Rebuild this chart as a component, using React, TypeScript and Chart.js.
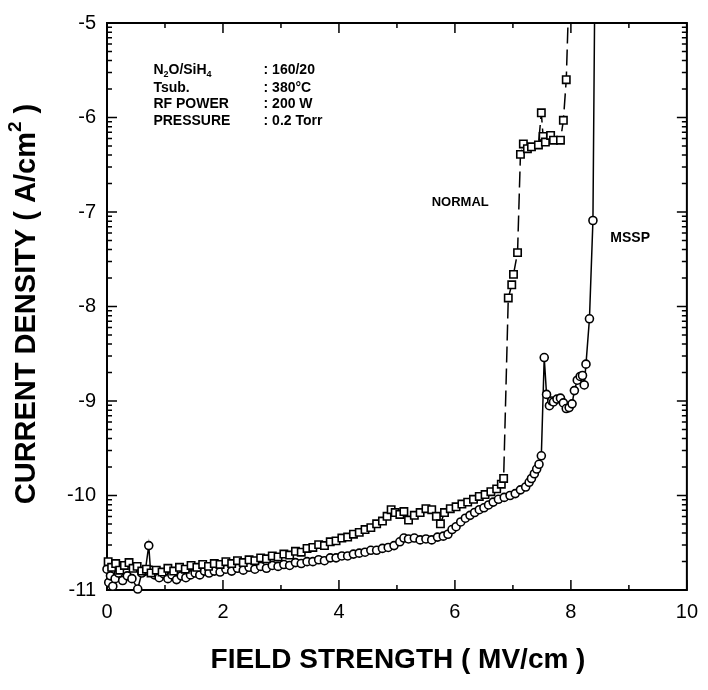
import React, { useEffect, useRef } from "react";
import { Chart, registerables } from "chart.js";

Chart.register(...registerables);

// ---- data ----
const normalX = [
  0.02, 0.08, 0.15, 0.22, 0.30, 0.38, 0.45, 0.52, 0.60, 0.68, 0.76, 0.85, 0.95,
  1.05, 1.15, 1.25, 1.35, 1.45, 1.55, 1.65, 1.75, 1.85, 1.95, 2.05, 2.15, 2.25,
  2.35, 2.45, 2.55, 2.65, 2.75, 2.85, 2.95, 3.05, 3.15, 3.25, 3.35, 3.45, 3.55,
  3.65, 3.75, 3.85, 3.95, 4.05, 4.15, 4.25, 4.35, 4.45, 4.55, 4.65, 4.75, 4.83,
  4.90, 4.97, 5.05, 5.12, 5.20, 5.30, 5.40, 5.50, 5.60, 5.68, 5.75, 5.82, 5.92,
  6.02, 6.12, 6.22, 6.32, 6.42, 6.52, 6.62, 6.72, 6.80, 6.84,
  6.92, 6.98, 7.01, 7.08, 7.13, 7.18, 7.25, 7.32, 7.44, 7.49, 7.52, 7.56, 7.65,
  7.70, 7.82, 7.87, 7.92, 7.96,
];
const normalY = [
  -10.70, -10.76, -10.72, -10.79, -10.74, -10.71, -10.77, -10.75, -10.80, -10.78, -10.82, -10.79, -10.81,
  -10.77, -10.80, -10.76, -10.78, -10.74, -10.76, -10.73, -10.75, -10.72, -10.73, -10.70, -10.72, -10.69,
  -10.71, -10.68, -10.69, -10.66, -10.67, -10.64, -10.65, -10.62, -10.63, -10.59, -10.60, -10.56, -10.55,
  -10.52, -10.53, -10.49, -10.48, -10.45, -10.44, -10.41, -10.39, -10.36, -10.34, -10.30, -10.27, -10.22,
  -10.15, -10.18, -10.20, -10.17, -10.26, -10.21, -10.18, -10.14, -10.15, -10.22, -10.30, -10.18, -10.14,
  -10.12, -10.09, -10.07, -10.04, -10.01, -9.99, -9.96, -9.93, -9.88, -9.82,
  -7.91, -7.77, -7.66, -7.43, -6.39, -6.28, -6.33, -6.31, -6.29, -5.95, -6.20, -6.26, -6.19,
  -6.24, -6.24, -6.03, -5.60, -4.80,
];

const msspX = [
  0.00, 0.03, 0.06, 0.10, 0.14, 0.20, 0.27, 0.35, 0.43, 0.53, 0.60, 0.66, 0.72,
  0.75, 0.82, 0.90, 0.98, 1.05, 1.12, 1.20, 1.28, 1.36, 1.44, 1.52, 1.60, 1.68,
  1.76, 1.85, 1.95, 2.05, 2.15, 2.25, 2.35, 2.45, 2.55, 2.65, 2.75, 2.85, 2.95,
  3.05, 3.15, 3.25, 3.35, 3.45, 3.55, 3.65, 3.75, 3.85, 3.95, 4.05, 4.15, 4.25,
  4.35, 4.45, 4.55, 4.65, 4.75, 4.85, 4.95, 5.05, 5.12, 5.20, 5.30, 5.40, 5.50,
  5.60, 5.70, 5.80, 5.88, 5.95, 6.02, 6.10, 6.18, 6.26, 6.34, 6.42, 6.50, 6.58,
  6.66, 6.75, 6.85, 6.95, 7.04, 7.13, 7.22, 7.28, 7.32, 7.37, 7.41, 7.45, 7.49,
  7.54, 7.58, 7.63, 7.67, 7.70, 7.76, 7.82, 7.87, 7.92, 7.97, 8.02, 8.06, 8.11,
  8.16, 8.20, 8.23, 8.26, 8.32, 8.38, 8.41,
];
const msspY = [
  -10.78, -10.92, -10.85, -10.96, -10.88, -10.82, -10.90, -10.85, -10.88, -10.99, -10.82, -10.80, -10.53,
  -10.79, -10.84, -10.87, -10.83, -10.88, -10.84, -10.89, -10.85, -10.87, -10.84, -10.82, -10.84, -10.80,
  -10.82, -10.80, -10.81, -10.78, -10.80, -10.77, -10.79, -10.76, -10.78, -10.75, -10.77, -10.74, -10.75,
  -10.73, -10.74, -10.71, -10.72, -10.70, -10.70, -10.68, -10.69, -10.66, -10.66, -10.64, -10.64, -10.62,
  -10.61, -10.60, -10.58, -10.58, -10.56, -10.55, -10.53, -10.49, -10.45, -10.46, -10.45, -10.47, -10.46,
  -10.47, -10.44, -10.43, -10.41, -10.36, -10.33, -10.28, -10.24, -10.21, -10.18, -10.15, -10.13, -10.10,
  -10.07, -10.04, -10.02, -10.00, -9.98, -9.94, -9.91, -9.86, -9.82, -9.77, -9.72, -9.67, -9.58,
  -8.54, -8.93, -9.05, -9.00, -9.01, -8.98, -8.97, -9.02, -9.08, -9.07, -9.03, -8.89, -8.78,
  -8.74, -8.73, -8.83, -8.61, -8.13, -7.09, -4.80,
];

const xMin = 0;
const xMax = 10;
const xMajorStep = 2;
const xMinorTicks = [1, 3, 5, 7, 9];
const yMin = -11;
const yMax = -5;
const yDecades = [-11, -10, -9, -8, -7, -6];
const logMinorFactors = [2, 3, 4, 5, 6, 7, 8, 9];

const seriesLabels = ["NORMAL", "MSSP"];
const xTitle = "FIELD STRENGTH ( MV/cm )";
const yTitleMain = "CURRENT DENSITY ( A/cm";
const yTitleSup = "2";
const yTitleEnd = " )";

const conditionNames = ["N2O/SiH4", "Tsub.", "RF POWER", "PRESSURE"];
const conditionValues = [": 160/20", ": 380°C", ": 200 W", ": 0.2 Torr"];

const FONT = '"Liberation Sans", Arial, Helvetica, sans-serif';

type Seg = { t: string; sub?: boolean; sup?: boolean };

function drawSegs(ctx: CanvasRenderingContext2D, segs: Seg[], x: number, y: number, size: number, weight: string, align: "left" | "center") {
  const widths = segs.map((s) => {
    ctx.font = `${weight} ${s.sub || s.sup ? Math.round(size * 0.65) : size}px ${FONT}`;
    return ctx.measureText(s.t).width;
  });
  const total = widths.reduce((a, b) => a + b, 0);
  let cx = align === "center" ? x - total / 2 : x;
  segs.forEach((s, i) => {
    const small = s.sub || s.sup;
    ctx.font = `${weight} ${small ? Math.round(size * 0.65) : size}px ${FONT}`;
    let dy = 0;
    if (s.sub) dy = size * 0.3;
    if (s.sup) dy = -size * 0.38;
    ctx.fillText(s.t, cx, y + dy);
    cx += widths[i];
  });
}

function nameSegs(name: string): Seg[] {
  if (name === "N2O/SiH4") {
    return [{ t: "N" }, { t: "2", sub: true }, { t: "O/SiH" }, { t: "4", sub: true }];
  }
  return [{ t: name }];
}

const framePlugin = {
  id: "framePlugin",
  beforeDatasetsDraw(chart: any) {
    const { ctx, chartArea } = chart;
    const xs = chart.scales.x;
    const ys = chart.scales.y;
    const { left, right, top, bottom } = chartArea;
    ctx.save();
    ctx.strokeStyle = "#000";
    ctx.lineWidth = 2;
    ctx.strokeRect(left, top, right - left, bottom - top);
    ctx.lineWidth = 1.5;
    ctx.beginPath();
    for (let v = xMin; v <= xMax; v += xMajorStep) {
      const px = xs.getPixelForValue(v);
      ctx.moveTo(px, bottom); ctx.lineTo(px, bottom - 10);
      ctx.moveTo(px, top); ctx.lineTo(px, top + 10);
    }
    xMinorTicks.forEach((v) => {
      const px = xs.getPixelForValue(v);
      ctx.moveTo(px, bottom); ctx.lineTo(px, bottom - 5);
      ctx.moveTo(px, top); ctx.lineTo(px, top + 5);
    });
    for (let v = yMin; v <= yMax; v += 1) {
      const py = ys.getPixelForValue(v);
      ctx.moveTo(left, py); ctx.lineTo(left + 10, py);
      ctx.moveTo(right, py); ctx.lineTo(right - 10, py);
    }
    yDecades.forEach((d) => {
      logMinorFactors.forEach((k) => {
        const py = ys.getPixelForValue(d + Math.log10(k));
        ctx.moveTo(left, py); ctx.lineTo(left + 5, py);
        ctx.moveTo(right, py); ctx.lineTo(right - 5, py);
      });
    });
    ctx.stroke();
    ctx.restore();
  },
  afterDraw(chart: any) {
    const { ctx, chartArea } = chart;
    const xs = chart.scales.x;
    const ys = chart.scales.y;
    ctx.save();
    ctx.fillStyle = "#000";
    ctx.textBaseline = "middle";
    ctx.textAlign = "left";
    const rowY = [-5.5, -5.69, -5.86, -6.04];
    conditionNames.forEach((n, i) => {
      const py = ys.getPixelForValue(rowY[i]);
      drawSegs(ctx, nameSegs(n), xs.getPixelForValue(0.8), py, 14, "bold", "left");
      drawSegs(ctx, [{ t: conditionValues[i] }], xs.getPixelForValue(2.7), py, 14, "bold", "left");
    });
    drawSegs(ctx, [{ t: seriesLabels[0] }], xs.getPixelForValue(5.6), ys.getPixelForValue(-6.9), 13, "bold", "left");
    drawSegs(ctx, [{ t: seriesLabels[1] }], xs.getPixelForValue(8.68), ys.getPixelForValue(-7.28), 14, "bold", "left");
    drawSegs(ctx, [{ t: xTitle }], 398, 660, 28, "bold", "center");
    ctx.translate(27, 304);
    ctx.rotate(-Math.PI / 2);
    drawSegs(ctx, [{ t: yTitleMain }, { t: yTitleSup, sup: true }, { t: yTitleEnd }], 0, 0, 29, "bold", "center");
    ctx.restore();
  },
};

export default function App() {
  const canvasRef = useRef<HTMLCanvasElement | null>(null);

  useEffect(() => {
    if (!canvasRef.current) return;
    const normalData = normalX.map((x, i) => ({ x, y: normalY[i] }));
    const msspData = msspX.map((x, i) => ({ x, y: msspY[i] }));
    const chart = new Chart(canvasRef.current, {
      type: "scatter",
      data: {
        datasets: [
          {
            label: seriesLabels[0],
            data: normalData,
            showLine: true,
            borderColor: "#000",
            borderWidth: 1.5,
            borderDash: [16, 6],
            pointStyle: "rect",
            pointRadius: 5.2,
            pointBackgroundColor: "#fff",
            pointBorderColor: "#000",
            pointBorderWidth: 1.6,
            clip: { left: 8, top: 0, right: 0, bottom: 8 },
          },
          {
            label: seriesLabels[1],
            data: msspData,
            showLine: true,
            borderColor: "#000",
            borderWidth: 1.5,
            pointStyle: "circle",
            pointRadius: 4,
            pointBackgroundColor: "#fff",
            pointBorderColor: "#000",
            pointBorderWidth: 1.6,
            clip: { left: 8, top: 0, right: 0, bottom: 8 },
          },
        ],
      },
      options: {
        animation: false,
        responsive: false,
        maintainAspectRatio: false,
        layout: { padding: { left: 0, top: 14, right: 19, bottom: 0 } },
        plugins: { legend: { display: false }, tooltip: { enabled: false } },
        scales: {
          x: {
            type: "linear",
            min: xMin,
            max: xMax,
            grid: { display: false, drawTicks: false },
            border: { display: false },
            ticks: {
              stepSize: xMajorStep,
              padding: 10,
              color: "#000",
              font: { family: FONT, size: 20 },
              maxRotation: 0,
            },
            afterFit: (s: any) => { s.height = 100; },
          },
          y: {
            type: "linear",
            min: yMin,
            max: yMax,
            grid: { display: false, drawTicks: false },
            border: { display: false },
            ticks: {
              stepSize: 1,
              padding: 11,
              color: "#000",
              font: { family: FONT, size: 20 },
            },
            afterFit: (s: any) => { s.width = 107; },
          },
        },
      },
      plugins: [framePlugin],
    } as any);
    return () => chart.destroy();
  }, []);

  return (
    <div style={{ position: "fixed", left: 0, top: 0, width: 708, height: 690, background: "#fff" }}>
      <canvas ref={canvasRef} width={708} height={690} style={{ width: 708, height: 690, display: "block" }} />
    </div>
  );
}
